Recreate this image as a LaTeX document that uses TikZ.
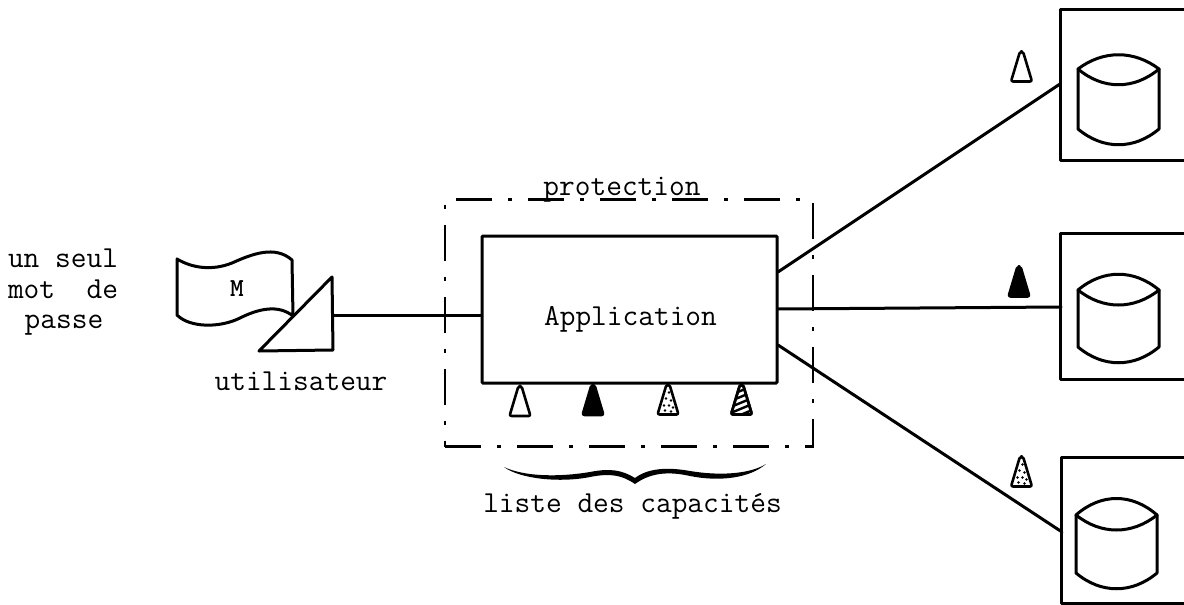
\documentclass[tikz,border=0pt]{standalone}
\usepackage{fontspec}
\tikzset{
  ln/.style={line width=3pt,line join=round,line cap=round},
  boxn/.style={draw,line width=3pt,inner sep=0pt,rounded corners=1pt},
  txt/.style={inner sep=0pt,font=\fontsize{30.5}{30.5}\selectfont\ttfamily\addfontfeature{FakeBold=0.4},anchor=base},
  dashdot/.style={line width=2.6pt,dash pattern=on 36pt off 16pt on 4pt off 16pt},
}
\newcommand{\cone}[3]{%
  \draw[ln,fill=#3,rounded corners=2pt,line width=2.6pt] (#1-10.5,#2+15) -- (#1-1.5,#2-15) -- (#1+1.5,#2-15) -- (#1+10.5,#2+15) -- cycle;}
\newcommand{\conedots}[2]{%
  \begin{scope}[shift={(#1,#2)}]
    \fill (1,-7) circle (1.3);\fill (-2,-1) circle (1.3);\fill (3,1) circle (1.3);
    \fill (-4,6) circle (1.3);\fill (1,6) circle (1.3);\fill (5,8) circle (1.3);
    \fill (-3,11) circle (1.3);\fill (3,12) circle (1.3);
  \end{scope}}
\newcommand{\conestripes}[2]{%
  \begin{scope}[shift={(#1,#2)}]
    \clip (-10.5,15) -- (-1.5,-15) -- (1.5,-15) -- (10.5,15) -- cycle;
    \foreach \yy in {-9,-3,3,9,15}{\draw[line width=2.4pt] (-12,\yy+5) -- (12,\yy-5);}
  \end{scope}}
\newcommand{\disk}[6]{%
  \draw[ln] (#1,#3) .. controls (#1+25,#4-5) and (#2-25,#4-5) .. (#2,#3)
    .. controls (#2-25,#5+5) and (#1+25,#5+5) .. cycle;
  \draw[ln] (#1,#3) -- (#1,#6) .. controls (#1+25,#6+21) and (#2-25,#6+21) .. (#2,#6) -- (#2,#3);
}
\begin{document}
\begin{tikzpicture}[x=1pt,y=-1pt]
\useasboundingbox (0,0) rectangle (1184,605);
% left texts
\node[txt] (t1) at (63,267) {un seul};
\node[txt] (t2) at (63,298) {mot\ \ de};
\node[txt] (t3) at (64,328) {passe};
% flag
\draw[ln] (177,259) .. controls (192,268) and (212,271) .. (232,263)
  .. controls (252,254) and (275,245) .. (292,260) -- (293,316)
  .. controls (278,304) and (258,309) .. (240,318)
  .. controls (220,328) and (190,328) .. (177,315) -- cycle;
\node[inner sep=0pt,font=\fontsize{26}{26}\selectfont\ttfamily\bfseries] (m) at (237,289) {M};
% triangle
\draw[ln,fill=white] (259,351) -- (332,277) -- (333,350) -- cycle;
\coordinate (tri) at (333,315);
\node[txt] (u) at (301,390) {utilisateur};
% protection frame
\node[dashdot,draw,minimum width=368pt,minimum height=247pt,inner sep=0pt] (prot) at (629,323) {};
\node[txt] (pt) at (622,195) {protection};
% application
\node[boxn,minimum width=295pt,minimum height=147pt,fill=white] (app) at (629.5,309.5) {};
\node[txt] (at) at (630.5,325) {Application};
% capacity cones
\cone{520}{401}{white}
\cone{593}{400}{black}
\cone{668}{399.5}{white}
\conedots{668}{399.5}
\cone{741.5}{399.5}{white}
\conestripes{741.5}{399.5}
\cone{741.5}{399.5}{none}
% brace
\fill (504,467) .. controls (520,479) and (560,483) .. (590,477)
  .. controls (610,473) and (622,475) .. (635,484)
  .. controls (650,473) and (668,471) .. (690,476)
  .. controls (720,482) and (750,478) .. (766,464)
  .. controls (750,474) and (720,476) .. (690,471)
  .. controls (668,467) and (648,468) .. (635,478)
  .. controls (622,470) and (610,468) .. (590,472)
  .. controls (560,477) and (525,477) .. (504,467) -- cycle;
\node[txt] (l) at (632.5,512) {liste des capacités};
% disks
\node[minimum width=123pt,minimum height=150pt,inner sep=0pt] (d1) at (1122.5,85) {};
\node[minimum width=123pt,minimum height=145pt,inner sep=0pt] (d2) at (1122.5,306.5) {};
\node[minimum width=122pt,minimum height=145pt,inner sep=0pt] (d3) at (1123,530.5) {};
\foreach \d in {d1,d2,d3}{\draw[ln] (\d.north east) -- (\d.north west) -- (\d.south west) -- (\d.south east);}
\disk{1078}{1159}{69}{55}{85}{129}
\disk{1078}{1159}{290}{274}{305}{347}
\disk{1076}{1157}{515}{498}{530}{573}
% connectors
\coordinate (a1) at (778,272);\coordinate (b1) at (1060,84);
\coordinate (a2) at (778,309);\coordinate (b2) at (1061,307);
\coordinate (a3) at (778,345);\coordinate (b3) at (1062,532);
\draw[ln] (a1) -- (b1);
\draw[ln] (a2) -- (b2);
\draw[ln] (a3) -- (b3);
\draw[ln] (tri) -- (app.west |- tri);
% cones on connectors
\cone{1021.5}{66.5}{white}
\cone{1019}{281.5}{black}
\cone{1021.5}{471.5}{white}
\conedots{1021.5}{471.5}
\end{tikzpicture}
\end{document}
